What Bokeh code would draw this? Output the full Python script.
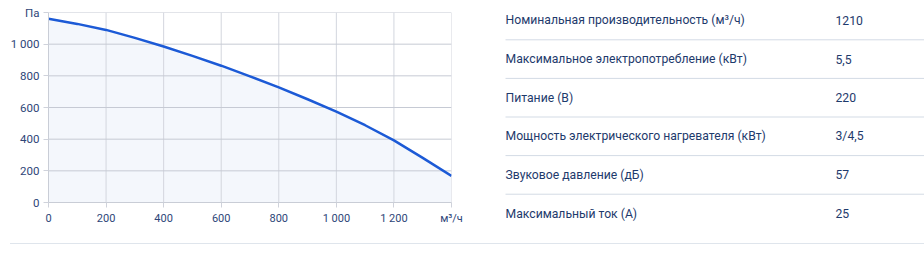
from bokeh.plotting import figure
from bokeh.models import Range1d, FixedTicker, ColumnDataSource, Div
from bokeh.layouts import row, column
from bokeh.embed import file_html
from bokeh.resources import INLINE
from bokeh.core.properties import value

# ---- data ----
flow = [0, 100, 200, 300, 400, 500, 600, 700, 800, 900, 1000, 1100, 1200, 1300, 1400]
pressure = [1160, 1128, 1090, 1040, 985, 926, 864, 797, 727, 652, 574, 488, 392, 282, 168]

x_ticks = [0, 200, 400, 600, 800, 1000, 1200, 1400]
x_tick_labels = {0: "0", 200: "200", 400: "400", 600: "600", 800: "800",
                 1000: "1 000", 1200: "1 200", 1400: "м³/ч"}
y_ticks = [0, 200, 400, 600, 800, 1000, 1200]
y_tick_labels = {0: "0", 200: "200", 400: "400", 600: "600", 800: "800",
                 1000: "1 000", 1200: "Па"}

param_names = [
    "Номинальная производительность (м³/ч)",
    "Максимальное электропотребление (кВт)",
    "Питание (В)",
    "Мощность электрического нагревателя (кВт)",
    "Звуковое давление (дБ)",
    "Максимальный ток (А)",
]
param_values = ["1210", "5,5", "220", "3/4,5", "57", "25"]

FONT = "Roboto"
TICK_COLOR = "#2e4678"
TEXT_COLOR = "#1e3a6c"
GRID_V = "#d3d6de"
GRID_H = "#c6cad4"
LINE = "#1c5ad6"
SEP = "#d3dbe5"

X0, X1 = 0, 1400
Y0, Y1 = 0, 1200

# ---- chart ----
p1 = figure(width=480, height=243, output_backend="svg", toolbar_location=None,
            x_range=Range1d(X0, X1), y_range=Range1d(Y0, Y1),
            min_border_left=48, min_border_right=29, min_border_top=12, min_border_bottom=41)
p1.outline_line_color = None
p1.background_fill_color = "white"
p1.border_fill_color = "white"
p1.grid.visible = False

src = ColumnDataSource(dict(x=flow, y=pressure, z=[0] * len(flow)))
p1.varea(x="x", y1="z", y2="y", source=src, fill_color="#2a5cc8", fill_alpha=0.05)

# grid lines drawn from the tick arrays (over the light fill)
p1.segment(x0=x_ticks, x1=x_ticks, y0=[Y0] * len(x_ticks), y1=[Y1] * len(x_ticks),
           line_color=GRID_V, line_width=1)
p1.segment(x0=[X0] * len(y_ticks), x1=[X1] * len(y_ticks), y0=y_ticks, y1=y_ticks,
           line_color=GRID_H, line_width=1)

p1.line(x="x", y="y", source=src, line_color=LINE, line_width=2.5)

for ax in (p1.xaxis[0], p1.yaxis[0]):
    ax.axis_line_color = "#c9cdd6"
    ax.major_tick_line_color = "#cfd2db"
    ax.major_tick_out = 5
    ax.major_tick_in = 0
    ax.minor_tick_line_color = None
    ax.major_label_text_font = FONT
    ax.major_label_text_font_size = "11px"
    ax.major_label_text_color = TICK_COLOR
    ax.major_label_standoff = 4
p1.yaxis.major_label_text_font_size = "11.5px"
p1.xaxis.ticker = FixedTicker(ticks=x_ticks)
p1.xaxis.major_label_overrides = x_tick_labels
p1.yaxis.ticker = FixedTicker(ticks=y_ticks)
p1.yaxis.major_label_overrides = y_tick_labels

# ---- parameter table ----
n = len(param_names)
rows_y = list(range(n))
p2 = figure(width=444, height=243, output_backend="svg", toolbar_location=None,
            x_range=Range1d(0, 444), y_range=Range1d(5.777, -0.518),
            x_axis_location=None, y_axis_location=None,
            min_border=0, min_border_left=0, min_border_right=0,
            min_border_top=0, min_border_bottom=0)
p2.grid.visible = False
p2.outline_line_color = None
p2.background_fill_color = "white"
p2.border_fill_color = "white"

tsrc = ColumnDataSource(dict(y=rows_y, name=param_names, val=param_values))
p2.text(x=25, y="y", text="name", source=tsrc, text_font=value(FONT),
        text_font_size="12.2px", text_color=TEXT_COLOR, text_baseline="middle")
p2.text(x=355, y="y", text="val", source=tsrc, text_font=value(FONT),
        text_font_size="12.2px", text_color=TEXT_COLOR, text_baseline="middle")
sep_y = [i + 0.5 for i in rows_y[:-1]]
p2.segment(x0=25, x1=444, y0=sep_y, y1=sep_y, line_color=SEP, line_width=1)

bottom_rule = Div(width=914, height=1, margin=(0, 0, 0, 10),
                  styles={"background-color": "#dfe5ec"})

layout = column(row(column(p1), column(p2), spacing=0), bottom_rule, spacing=0)
open("out.html", "w").write(file_html(layout, INLINE))
